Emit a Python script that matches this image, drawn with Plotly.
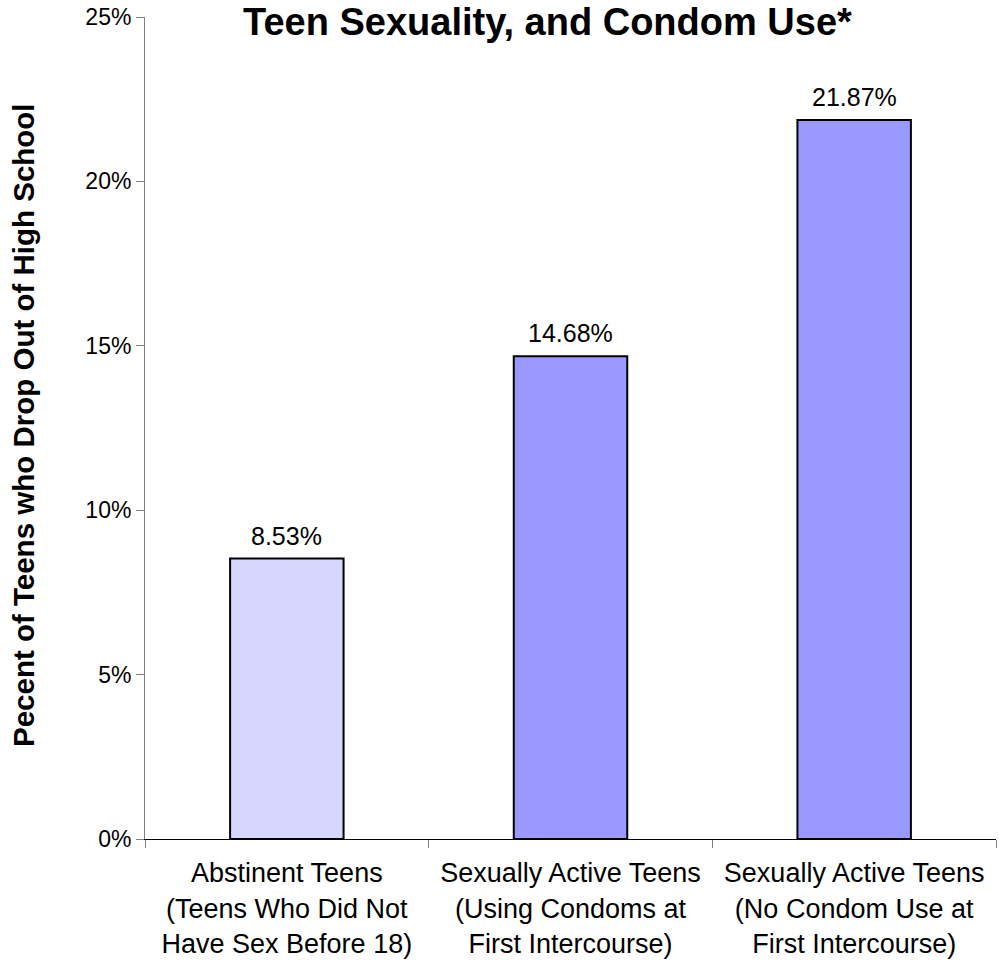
import plotly.graph_objects as go

# Dropout rates by group
categories = [
    "Abstinent Teens<br>(Teens Who Did Not<br>Have Sex Before 18)",
    "Sexually Active Teens<br>(Using Condoms at<br>First Intercourse)",
    "Sexually Active Teens<br>(No Condom Use at<br>First Intercourse)",
]
dropout_pct = [8.53, 14.68, 21.87]
tick_values = [0, 5, 10, 15, 20, 25]
tick_labels = ["0%", "5%", "10%", "15%", "20%", "25%"]

FONT = "Liberation Sans, Arial, sans-serif"

W, H = 999, 966
L, R, T, B = 145, 3, 17, 127
plot_w = W - L - R
plot_h = H - T - B

fig = go.Figure()

# First bar: light dotted fill; others solid periwinkle
fig.add_trace(go.Bar(
    x=categories[:1],
    y=dropout_pct[:1],
    width=0.4,
    marker=dict(
        color="#9999FF",
        line=dict(color="black", width=2),
        pattern=dict(shape=".", fgcolor="#A3A3FF", bgcolor="#FFFFFF",
                     size=2, solidity=0.5, fillmode="replace"),
    ),
    showlegend=False,
    hoverinfo="skip",
))
fig.add_trace(go.Bar(
    x=categories[1:],
    y=dropout_pct[1:],
    width=0.4,
    marker=dict(color="#9999FF", line=dict(color="black", width=2)),
    showlegend=False,
    hoverinfo="skip",
))

# Value labels above bars
for cat, val in zip(categories, dropout_pct):
    fig.add_annotation(
        x=cat, y=val, xref="x", yref="y",
        text=f"{val:.2f}%",
        showarrow=False, yanchor="bottom", yshift=7,
        font=dict(family=FONT, size=25, color="black"),
    )

# Chart title (bold)
fig.add_annotation(
    x=(547.5 - L) / plot_w, y=1 + (T - 22) / plot_h,
    xref="paper", yref="paper",
    text="<b>Teen Sexuality, and Condom Use*</b>",
    showarrow=False, xanchor="center", yanchor="middle",
    font=dict(family=FONT, size=38, color="black"),
)

# Y-axis title
fig.add_annotation(
    x=-(L - 24) / plot_w, y=(839 - 425) / plot_h,
    xref="paper", yref="paper",
    text="<b>Pecent of Teens who Drop Out of High School</b>",
    textangle=-90, showarrow=False, xanchor="center", yanchor="middle",
    font=dict(family=FONT, size=29.5, color="black"),
)

fig.update_layout(
    width=W, height=H,
    margin=dict(l=L, r=R, t=T, b=B),
    paper_bgcolor="white",
    plot_bgcolor="white",
    bargap=0.6,
    font=dict(family=FONT, color="black"),
)

fig.update_xaxes(
    type="category",
    range=[-0.5, 2.5],
    tickson="boundaries",
    ticks="outside", ticklen=8, tickcolor="#808080", tickwidth=1,
    ticklabelstandoff=10,
    showline=True, linecolor="black", linewidth=1,
    showgrid=False,
    tickfont=dict(family=FONT, size=27, color="black"),
)

fig.update_yaxes(
    range=[0, 25],
    tickvals=tick_values, ticktext=tick_labels,
    ticks="outside", ticklen=8, tickcolor="#808080", tickwidth=1,
    showline=True, linecolor="#808080", linewidth=1,
    showgrid=False, zeroline=False,
    tickfont=dict(family=FONT, size=23, color="black"),
)

fig.write_html("out.html")
